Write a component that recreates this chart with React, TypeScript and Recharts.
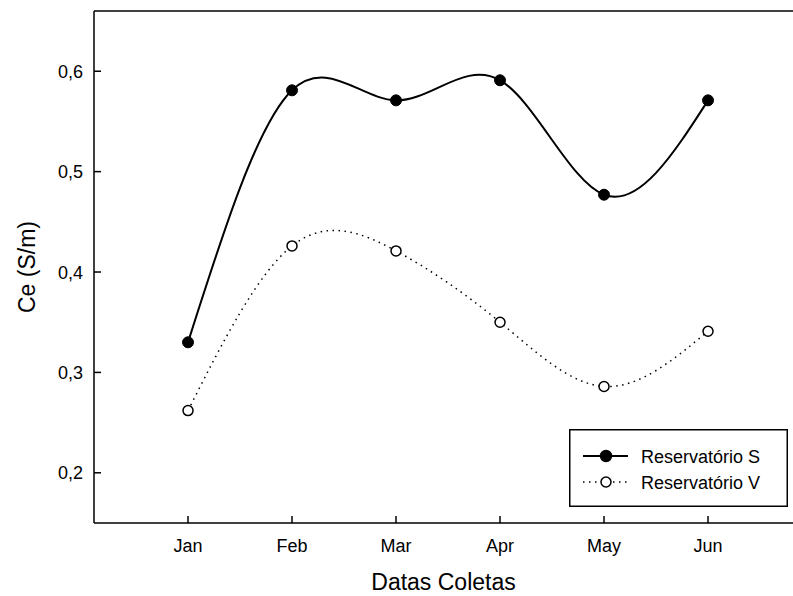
import { Legend, Line, LineChart, ReferenceLine, XAxis, YAxis } from "recharts";

const months = ["Jan", "Feb", "Mar", "Apr", "May", "Jun"];
const monthIndex = [1, 2, 3, 4, 5, 6];
const reservatorioS = [0.33, 0.581, 0.571, 0.591, 0.477, 0.571];
const reservatorioV = [0.262, 0.426, 0.421, 0.35, 0.286, 0.341];
const yTicks = [0.2, 0.3, 0.4, 0.5, 0.6];

const data = monthIndex.map((m, i) => ({ m, s: reservatorioS[i], v: reservatorioV[i] }));

const font = "'Liberation Sans', Arial, sans-serif";

function XTick({ x, y, payload }: any) {
  return (
    <g>
      <line x1={x} y1={y} x2={x} y2={y - 7} stroke="#000" strokeWidth={1.5} />
      <text x={x} y={y + 29} textAnchor="middle" fontSize={18} fill="#000">
        {months[payload.value - 1]}
      </text>
    </g>
  );
}

function YTick({ x, y, payload }: any) {
  return (
    <g>
      <line x1={x} y1={y} x2={x + 7} y2={y} stroke="#000" strokeWidth={1.5} />
      <text x={x - 11} y={y + 6.5} textAnchor="end" fontSize={18} fill="#000">
        {payload.value.toFixed(1).replace(".", ",")}
      </text>
    </g>
  );
}

function LegendBox({ payload }: any) {
  const rows = payload || [];
  return (
    <svg width={219} height={78} style={{ display: "block" }}>
      <rect x={0.75} y={0.75} width={217.5} height={76.5} fill="#fff" stroke="#000" strokeWidth={1.5} />
      {rows.map((item: any, i: number) => {
        const cy = 27 + i * 26;
        const open = item.dataKey === "v";
        return (
          <g key={item.value}>
            <line
              x1={14}
              y1={cy}
              x2={59}
              y2={cy}
              stroke="#000"
              strokeWidth={open ? 1.5 : 2}
              strokeDasharray={open ? "1.5 4.5" : undefined}
            />
            <circle cx={37} cy={cy} r={open ? 5 : 5.5} fill={open ? "#fff" : "#000"} stroke="#000" strokeWidth={1.5} />
            <text x={72} y={cy + 6.5} fontSize={18} fill="#000" fontFamily={font}>
              {item.value}
            </text>
          </g>
        );
      })}
    </svg>
  );
}

export default function App() {
  return (
    <div style={{ position: "absolute", left: 0, top: 0, background: "#fff" }}>
      <LineChart
        width={793}
        height={596}
        data={data}
        margin={{ top: 11, right: 0, bottom: 0, left: 0 }}
        style={{ fontFamily: font }}
      >
        <XAxis
          dataKey="m"
          type="number"
          domain={[0.096, 6.817]}
          ticks={monthIndex}
          allowDataOverflow
          height={73}
          tickSize={0}
          tickMargin={0}
          tick={<XTick />}
          stroke="#000"
          strokeWidth={1.5}
          label={{ value: "Datas Coletas", position: "insideBottom", offset: 6, fontSize: 23, fill: "#000" }}
        />
        <YAxis
          type="number"
          domain={[0.15, 0.66]}
          ticks={yTicks}
          allowDataOverflow
          width={94}
          tickSize={0}
          tickMargin={0}
          tick={<YTick />}
          stroke="#000"
          strokeWidth={1.5}
          label={{
            value: "Ce (S/m)",
            angle: -90,
            position: "insideLeft",
            offset: 27,
            fontSize: 23,
            fill: "#000",
            style: { textAnchor: "middle" },
          }}
        />
        <ReferenceLine y={0.66} stroke="#000" strokeWidth={1.5} />
        <Line
          dataKey="s"
          name="Reservatório S"
          type="natural"
          stroke="#000"
          strokeWidth={2}
          dot={{ r: 5.5, fill: "#000", stroke: "#000", strokeWidth: 1 }}
          isAnimationActive={false}
        />
        <Line
          dataKey="v"
          name="Reservatório V"
          type="natural"
          stroke="#000"
          strokeWidth={1.5}
          strokeDasharray="1.5 4.5"
          dot={{ r: 5, fill: "#fff", stroke: "#000", strokeWidth: 1.5, strokeDasharray: "none" }}
          isAnimationActive={false}
        />
        <Legend
          layout="horizontal"
          align="center"
          verticalAlign="middle"
          content={<LegendBox />}
          wrapperStyle={{ left: 569, top: 429, width: 219, height: 78 }}
        />
      </LineChart>
    </div>
  );
}
